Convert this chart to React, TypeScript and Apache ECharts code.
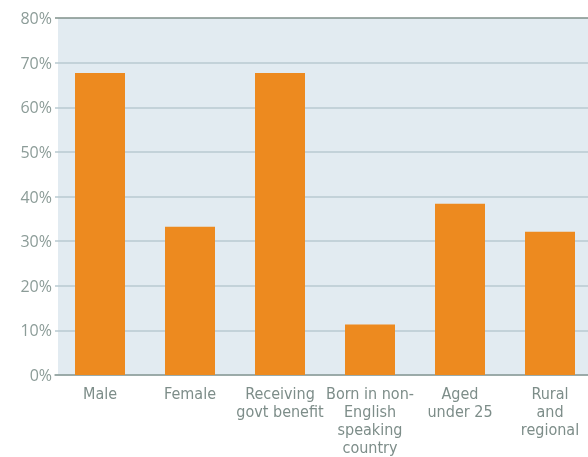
import React, { useEffect, useRef } from "react";
import * as echarts from "echarts";

const categories = [
  "Male",
  "Female",
  "Receiving\ngovt benefit",
  "Born in non-\nEnglish\nspeaking\ncountry",
  "Aged\nunder 25",
  "Rural\nand\nregional",
];
const shares = [67.7, 33.2, 67.7, 11.3, 38.4, 32.1];
const yTicks = [0, 10, 20, 30, 40, 50, 60, 70, 80];

const GRID_TOP = 18;
const GRID_BOTTOM_Y = 375;

export default function App() {
  const ref = useRef<HTMLDivElement>(null);

  useEffect(() => {
    if (!ref.current) return;
    const chart = echarts.init(ref.current, undefined, { renderer: "svg" });
    const gridLineColors = yTicks.map((v) =>
      v === yTicks[yTicks.length - 1] ? "#7f918a" : "#b9cad1"
    );
    chart.setOption({
      animation: false,
      graphic: [
        {
          type: "rect",
          z: -10,
          shape: { x: 58, y: GRID_TOP, width: 550, height: GRID_BOTTOM_Y - GRID_TOP },
          style: { fill: "#e2ebf1" },
        },
      ],
      // the plot runs past the visible right edge, so the chart is wider than its frame
      grid: { left: 55, width: 540, top: GRID_TOP, bottom: 457 - GRID_BOTTOM_Y },
      xAxis: {
        type: "category",
        data: categories,
        axisLine: { lineStyle: { color: "#8d9d98", width: 1.5 } },
        axisTick: { alignWithLabel: true, length: 5, lineStyle: { color: "#8d9d98", width: 1.5 } },
        axisLabel: {
          interval: 0,
          margin: 9,
          color: "#7d8d89",
          fontFamily: "'Liberation Sans Narrow', 'DejaVu Sans Condensed', sans-serif",
          fontSize: 16,
          lineHeight: 18,
        },
      },
      yAxis: {
        type: "value",
        min: 0,
        max: 80,
        interval: 10,
        axisLine: { show: false },
        axisTick: { show: false },
        splitLine: { lineStyle: { color: gridLineColors, width: 1.5 } },
        axisLabel: {
          formatter: "{value}%",
          margin: 3,
          color: "#8c9c98",
          fontFamily: "'Open Sans', sans-serif",
          fontSize: 16,
        },
      },
      series: [
        {
          type: "bar",
          data: shares,
          barWidth: 50,
          itemStyle: { color: "#ed8a1f" },
          z: 3,
        },
      ],
    });
    return () => chart.dispose();
  }, []);

  return (
    <div
      style={{
        position: "fixed",
        left: 0,
        top: 0,
        width: 588,
        height: 457,
        overflow: "hidden",
      }}
    >
      <div ref={ref} style={{ width: 610, height: 457 }} />
    </div>
  );
}
